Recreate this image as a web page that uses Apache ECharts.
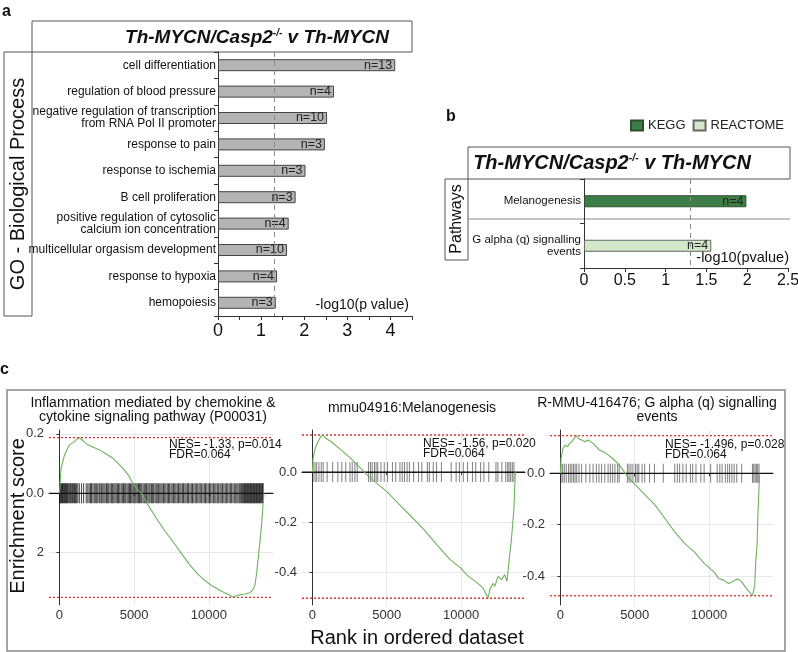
<!DOCTYPE html>
<html><head><meta charset="utf-8">
<script src="https://cdn.jsdelivr.net/npm/echarts@6.0.0/dist/echarts.min.js"></script>
<style>html,body{margin:0;padding:0;background:#fff}#chart{width:798px;height:652px}</style>
</head><body><div id="chart"></div>
<script>
// ---------- Panel a: GO Biological Process ----------
const goTerms = [
  'cell differentiation',
  'regulation of blood pressure',
  'negative regulation of transcription\nfrom RNA Pol II promoter',
  'response to pain',
  'response to ischemia',
  'B cell proliferation',
  'positive regulation of cytosolic\ncalcium ion concentration',
  'multicellular orgasism development',
  'response to hypoxia',
  'hemopoiesis'
];
const goValues = [4.11, 2.69, 2.53, 2.48, 2.03, 1.80, 1.64, 1.60, 1.37, 1.34];
const goCounts = [13, 4, 10, 3, 3, 3, 4, 10, 4, 3];

// ---------- Panel b: Pathways ----------
const pathTerms = ['Melanogenesis', 'G alpha (q) signalling\nevents'];
const pathValues = [1.99, 1.56];
const pathCounts = [4, 4];
const pathSource = ['KEGG', 'REACTOME'];

const threshold = 1.3; // -log10(0.05)

// ---------- Panel c: GSEA running enrichment scores ----------
const rankTicks = [0, 5000, 10000];
const c1YTicks = [-0.2, 0, 0.2];
const c1YLabels = ['2', '0.0', '0.2'];
const c23YTicks = [-0.4, -0.2, 0];
const c23YLabels = ['-0.4', '-0.2', '0.0'];

const c1Curve = [[0,0],[110,0.084],[336,0.129],[671,0.163],[1000,0.174],[1200,0.183],[1342,0.187],[1500,0.181],[1678,0.172],[1900,0.163],[2300,0.154],[2685,0.146],[3100,0.133],[3580,0.118],[4250,0.084],[4600,0.062],[4920,0.034],[5200,0.014],[5480,0],[6000,-0.045],[6490,-0.084],[7050,-0.126],[7600,-0.163],[8200,-0.205],[8725,-0.241],[9300,-0.274],[9843,-0.298],[10300,-0.314],[10738,-0.326],[11100,-0.336],[11409,-0.342],[11633,-0.350],[11850,-0.344],[12080,-0.342],[12400,-0.339],[12751,-0.335],[12950,-0.325],[13087,-0.309],[13200,-0.27],[13310,-0.219],[13450,-0.15],[13535,-0.107],[13647,-0.028],[13700,0]];
const c1Hits = [20,60,110,150,200,240,290,330,390,430,480,530,580,640,700,750,820,880,950,1010,1080,1150,1230,1330,1480,1620,1790,1900,1990,2080,2150,2240,2330,2400,2490,2570,2660,2720,2810,2900,2980,3060,3150,3230,3300,3390,3480,3560,3640,3720,3800,3890,3960,4040,4130,4210,4290,4370,4440,4530,4610,4690,4760,4840,4920,4990,5060,5130,5210,5290,5360,5440,5510,5600,5680,5750,5830,5920,6000,6070,6160,6240,6310,6400,6480,6550,6640,6720,6800,6880,6970,7050,7130,7220,7300,7380,7470,7550,7640,7720,7800,7890,7970,8060,8140,8230,8310,8400,8480,8570,8650,8740,8830,8910,9000,9090,9170,9260,9350,9430,9520,9610,9700,9780,9870,9960,10050,10130,10220,10310,10400,10480,10570,10660,10750,10830,10920,11010,11100,11180,11270,11360,11450,11530,11620,11710,11800,11880,11960,12040,12110,12180,12240,12300,12350,12400,12450,12500,12550,12600,12650,12700,12750,12800,12850,12900,12950,13000,13050,13100,13150,13200,13250,13300,13350,13400,13450,13500,13550,13600,13640];

const c2Curve = [[0,0],[44,0.054],[156,0.087],[267,0.107],[378,0.114],[556,0.141],[711,0.148],[933,0.134],[1267,0.121],[1822,0.094],[2489,0.060],[3044,0.027],[3711,-0.013],[4378,-0.047],[5044,-0.080],[5711,-0.121],[6600,-0.174],[7489,-0.228],[8378,-0.290],[9267,-0.349],[9933,-0.380],[10378,-0.410],[11044,-0.440],[11489,-0.463],[11822,-0.503],[11933,-0.469],[12155,-0.443],[12267,-0.456],[12489,-0.416],[12711,-0.429],[12933,-0.409],[13089,-0.436],[13267,-0.329],[13378,-0.275],[13489,-0.268],[13556,-0.147],[13622,-0.04],[13650,0]];
const c2Hits = [44,176,286,439,593,725,989,1362,1714,1977,2241,2527,2680,2856,3010,3779,3911,4021,4174,4284,4394,4614,4833,5053,5383,5602,5888,6042,6196,6371,6525,6811,7140,7360,7733,7865,8129,8349,8678,9337,9667,9887,10150,10436,10765,10985,11315,11534,11864,12347,12479,12743,13006,13138,13226,13336,13446,13556];

const c3Curve = [[0,0],[44,0.058],[176,0.098],[330,0.11],[483,0.104],[615,0.117],[769,0.123],[879,0.13],[1055,0.147],[1208,0.136],[1428,0.13],[1648,0.123],[1867,0.13],[2197,0.117],[2636,0.091],[3076,0.078],[3515,0.058],[3955,0.033],[4284,0.007],[4614,-0.020],[5053,-0.046],[5712,-0.085],[6371,-0.124],[7030,-0.176],[7690,-0.228],[8349,-0.273],[9008,-0.306],[9667,-0.351],[10326,-0.384],[10656,-0.410],[10985,-0.416],[11315,-0.429],[11534,-0.423],[11754,-0.416],[11974,-0.412],[12193,-0.423],[12523,-0.449],[12918,-0.477],[13072,-0.436],[13138,-0.345],[13226,-0.280],[13292,-0.150],[13358,-0.059],[13402,0]];
const c3Hits = [44,154,264,395,549,659,769,879,989,1098,1252,1428,1714,1977,2197,2417,2592,2768,2988,3208,3362,3515,3669,3845,3955,4504,4614,4746,4877,5053,5163,5273,5493,5669,5998,6327,6920,7690,7865,8019,8239,8458,8744,8898,9118,9447,9667,10106,10546,10722,10875,11095,11249,11381,11534,11688,11864,12193,12918,13006,13094,13182,13270,13358];

// ---------- Build chart ----------
const FF = 'Liberation Sans, Arial, Helvetica, sans-serif';
const chart = echarts.init(document.getElementById('chart'), null, {renderer: 'canvas'});

const RANK_MIN = -700, RANK_MAX = 14300;

function lookupLabel(ticks, labels) {
  return function (v) {
    for (let i = 0; i < ticks.length; i++) if (Math.abs(ticks[i] - v) < 1e-9) return labels[i];
    return '';
  };
}

const axisDark = {color: '#333', width: 1};

function gseaAxes(i, ymin, ymax, yTicks, yLabels) {
  return {
    x: {
      type: 'value', gridIndex: i, min: RANK_MIN, max: RANK_MAX,
      axisLine: {show: true, lineStyle: axisDark},
      axisTick: {show: true, customValues: rankTicks, length: 3, lineStyle: axisDark},
      axisLabel: {customValues: rankTicks, fontSize: 13, color: '#333', margin: 4, fontFamily: FF,
                  formatter: v => String(Math.round(v))},
      splitLine: {show: true, lineStyle: {color: '#e8e8e8', width: 1}}
    },
    y: {
      type: 'value', gridIndex: i, min: ymin, max: ymax,
      axisLine: {show: true, lineStyle: axisDark},
      axisTick: {show: true, customValues: yTicks, length: 3, lineStyle: axisDark},
      axisLabel: {customValues: yTicks, fontSize: 13, color: '#333', margin: 5, fontFamily: FF,
                  formatter: lookupLabel(yTicks, yLabels)},
      splitLine: {show: true, lineStyle: {color: '#e8e8e8', width: 1}}
    }
  };
}

function hline(i, y, style, z) {
  return {
    type: 'line', xAxisIndex: i, yAxisIndex: i, silent: true, symbol: 'none', showSymbol: false,
    data: [[RANK_MIN, y], [RANK_MAX, y]], lineStyle: style, z: z
  };
}

function gseaSeries(i, curve, hits, hitH, hitOpacity) {
  const ys = curve.map(p => p[1]);
  const esMax = Math.max.apply(null, ys);
  const esMin = Math.min.apply(null, ys);
  const red = {color: '#e03030', type: [2, 2], width: 1.3};
  return [
    {
      type: 'scatter', xAxisIndex: i, yAxisIndex: i, silent: true,
      data: hits.map(h => [h, 0]), symbol: 'rect', symbolSize: [1, hitH],
      itemStyle: {color: '#000', opacity: hitOpacity}, z: 2
    },
    hline(i, 0, {color: '#111', type: 'solid', width: 1.2}, 3),
    hline(i, esMax, red, 4),
    hline(i, esMin, red, 4),
    {
      type: 'line', xAxisIndex: i, yAxisIndex: i, silent: true,
      data: curve, symbol: 'none', showSymbol: false,
      lineStyle: {color: '#6cb35a', width: 1.1}, z: 5
    }
  ];
}

const g1 = gseaAxes(2, -0.376, 0.213, c1YTicks, c1YLabels);
const g2 = gseaAxes(3, -0.530, 0.168, c23YTicks, c23YLabels);
const g3 = gseaAxes(4, -0.513, 0.169, c23YTicks, c23YLabels);

const titleA = '{m|Th-MYCN/Casp2}{s|-/-}{m| v Th-MYCN}';
function titleRich(size, sup) {
  return {
    m: {fontSize: size, fontWeight: 'bold', fontStyle: 'italic', fontFamily: FF, fill: '#111'},
    s: {fontSize: sup, fontWeight: 'bold', fontStyle: 'italic', fontFamily: FF, fill: '#111', verticalAlign: 'top'}
  };
}

function txt(x, y, text, opts) {
  return Object.assign({type: 'text', x: x, y: y, silent: true,
    style: Object.assign({text: text, fontFamily: FF, fill: '#111', fontSize: 12}, opts.style || {})},
    opts.el || {});
}
function box(x, y, w, h, stroke, lw) {
  return {type: 'rect', silent: true, shape: {x: x, y: y, width: w, height: h},
    style: {fill: 'none', stroke: stroke || '#555', lineWidth: lw || 1}};
}

const option = {
  animation: false,
  textStyle: {fontFamily: FF},
  legend: {
    data: ['KEGG', 'REACTOME'], left: 625, top: 114, icon: 'rect',
    itemWidth: 12, itemHeight: 10, itemGap: 7, selectedMode: false,
    textStyle: {fontSize: 13, color: '#222', fontFamily: FF}
  },
  grid: [
    {left: 218, top: 52, width: 194, height: 264, outerBoundsMode: 'none'},
    {left: 584, top: 179, width: 204, height: 89, outerBoundsMode: 'none'},
    {left: 49, top: 430, width: 224, height: 175, outerBoundsMode: 'none'},
    {left: 302, top: 430, width: 223, height: 175, outerBoundsMode: 'none'},
    {left: 550, top: 430, width: 223, height: 175, outerBoundsMode: 'none'}
  ],
  xAxis: [
    {
      type: 'value', gridIndex: 0, min: 0, max: 4.5, interval: 0.5,
      axisLine: {show: true, lineStyle: axisDark},
      axisTick: {show: true, length: 4, lineStyle: axisDark},
      axisLabel: {fontSize: 18, color: '#111', margin: 6, fontFamily: FF,
                  formatter: v => (Math.abs(v - Math.round(v)) < 1e-9 ? String(Math.round(v)) : '')},
      splitLine: {show: false}
    },
    {
      type: 'value', gridIndex: 1, min: 0, max: 2.5, interval: 0.5,
      axisLine: {show: true, lineStyle: axisDark},
      axisTick: {show: true, length: 4, lineStyle: axisDark},
      axisLabel: {fontSize: 16, color: '#111', margin: 5, fontFamily: FF},
      splitLine: {show: false}
    },
    g1.x, g2.x, g3.x
  ],
  yAxis: [
    {
      type: 'category', gridIndex: 0, data: goTerms, inverse: true,
      axisLine: {show: true, lineStyle: axisDark},
      axisTick: {show: true, length: 4, lineStyle: axisDark},
      axisLabel: {fontSize: 12, lineHeight: 12, color: '#111', margin: 2, fontFamily: FF, interval: 0}
    },
    {
      type: 'category', gridIndex: 1, data: pathTerms, inverse: true,
      axisLine: {show: true, lineStyle: axisDark},
      axisTick: {show: true, length: 4, lineStyle: axisDark},
      axisLabel: {fontSize: 11.5, lineHeight: 12, color: '#111', margin: 3, fontFamily: FF, interval: 0}
    },
    g1.y, g2.y, g3.y
  ],
  series: [
    {
      type: 'bar', xAxisIndex: 0, yAxisIndex: 0, data: goValues, barWidth: 12, silent: true,
      itemStyle: {color: '#b4b4b4', borderColor: '#444', borderWidth: 1},
      label: {show: true, position: 'insideRight', distance: 3, fontSize: 12.5, color: '#222', fontFamily: FF,
              formatter: p => 'n=' + goCounts[p.dataIndex]},
      markLine: {silent: true, symbol: ['none', 'none'], label: {show: false},
                 lineStyle: {color: '#888', type: [5, 4], width: 1},
                 data: [{xAxis: threshold}]}
    },
    {
      name: 'KEGG', type: 'bar', xAxisIndex: 1, yAxisIndex: 1, stack: 'p', barWidth: 12, silent: true,
      data: pathValues.map((v, i) => pathSource[i] === 'KEGG' ? v : '-'),
      itemStyle: {color: '#3c7e45', borderColor: '#2c4f30', borderWidth: 1},
      label: {show: true, position: 'insideRight', distance: 3, fontSize: 12.5, color: '#222', fontFamily: FF,
              formatter: p => 'n=' + pathCounts[p.dataIndex]},
      markLine: {silent: true, symbol: ['none', 'none'], label: {show: false},
                 lineStyle: {color: '#888', type: [5, 4], width: 1},
                 data: [{xAxis: threshold}]}
    },
    {
      name: 'REACTOME', type: 'bar', xAxisIndex: 1, yAxisIndex: 1, stack: 'p', barWidth: 12, silent: true,
      data: pathValues.map((v, i) => pathSource[i] === 'REACTOME' ? v : '-'),
      itemStyle: {color: '#d3e7c9', borderColor: '#666', borderWidth: 1},
      label: {show: true, position: 'insideRight', distance: 3, fontSize: 12.5, color: '#222', fontFamily: FF,
              formatter: p => 'n=' + pathCounts[p.dataIndex]}
    }
  ].concat(
    gseaSeries(2, c1Curve, c1Hits, 20, 0.75),
    gseaSeries(3, c2Curve, c2Hits, 20, 0.5),
    gseaSeries(4, c3Curve, c3Hits, 19, 0.5)
  ),
  graphic: [
    // panel a
    txt(2, 4, 'a', {style: {fontSize: 16, fontWeight: 'bold', verticalAlign: 'top'}}),
    box(32, 21, 380, 31, '#555', 1),
    txt(257, 38, titleA, {style: {rich: titleRich(19, 10), align: 'center', verticalAlign: 'middle'}}),
    box(4, 52, 28, 264, '#555', 1),
    txt(18, 184, 'GO - Biological Process', {style: {fontSize: 20, align: 'center', verticalAlign: 'middle'}, el: {rotation: Math.PI / 2}}),
    txt(409, 305, '-log10(p value)', {style: {fontSize: 14, align: 'right', verticalAlign: 'middle'}}),
    // panel b
    txt(446, 109, 'b', {style: {fontSize: 16, fontWeight: 'bold', verticalAlign: 'top'}}),
    box(468, 147, 322, 32, '#555', 1),
    txt(612, 163, titleA, {style: {rich: titleRich(20, 10.5), align: 'center', verticalAlign: 'middle'}}),
    box(445, 179, 23, 81, '#555', 1),
    txt(456.5, 219, 'Pathways', {style: {fontSize: 16, align: 'center', verticalAlign: 'middle'}, el: {rotation: Math.PI / 2}}),
    {type: 'line', silent: true, shape: {x1: 468, y1: 219, x2: 790, y2: 219}, style: {stroke: '#888', lineWidth: 1}},
    txt(789, 258, '-log10(pvalue)', {style: {fontSize: 14.5, align: 'right', verticalAlign: 'middle'}}),
    // panel c
    txt(0, 362, 'c', {style: {fontSize: 16, fontWeight: 'bold', verticalAlign: 'top'}}),
    box(7, 390, 778, 261, '#888', 1.5),
    txt(18, 516, 'Enrichment score', {style: {fontSize: 20, align: 'center', verticalAlign: 'middle'}, el: {rotation: Math.PI / 2}}),
    txt(417, 638, 'Rank in ordered dataset', {style: {fontSize: 20, align: 'center', verticalAlign: 'middle'}}),
    txt(153, 410, 'Inflammation mediated by chemokine &\ncytokine signaling pathway (P00031)', {style: {fontSize: 14, lineHeight: 14.5, align: 'center', verticalAlign: 'middle'}}),
    txt(412, 408, 'mmu04916:Melanogenesis', {style: {fontSize: 14, align: 'center', verticalAlign: 'middle'}}),
    txt(657, 410, 'R-MMU-416476; G alpha (q) signalling\nevents', {style: {fontSize: 14, lineHeight: 14.5, align: 'center', verticalAlign: 'middle'}}),
    txt(169, 439, 'NES= -1.33, p=0.014\nFDR=0.064', {style: {fontSize: 12, lineHeight: 10.5, align: 'left', verticalAlign: 'top'}}),
    txt(423, 438, 'NES= -1.56, p=0.020\nFDR=0.064', {style: {fontSize: 12, lineHeight: 10.5, align: 'left', verticalAlign: 'top'}}),
    txt(665, 439, 'NES= -1.496, p=0.028\nFDR=0.064', {style: {fontSize: 12, lineHeight: 10.5, align: 'left', verticalAlign: 'top'}})
  ]
};
chart.setOption(option);
</script></body></html>
